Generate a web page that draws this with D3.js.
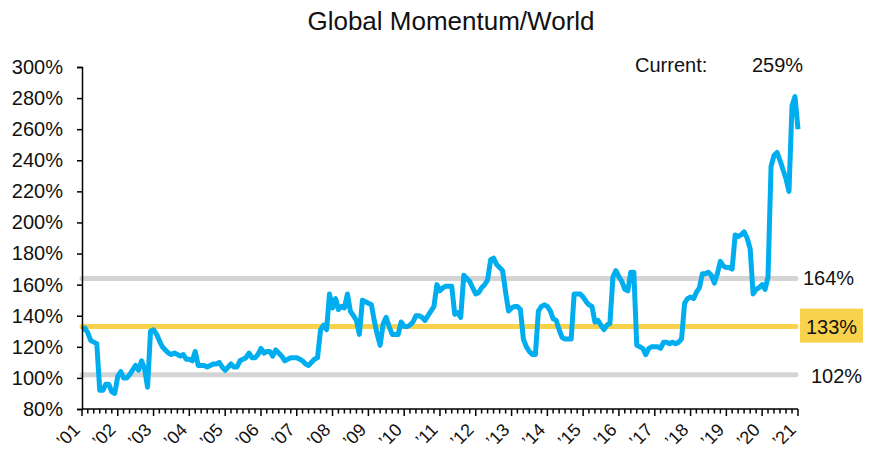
<!DOCTYPE html>
<html>
<head>
<meta charset="utf-8">
<script src="https://cdn.jsdelivr.net/npm/d3@7"></script>
<style>
  body { margin: 0; background: #fff; }
  text { font-family: "Liberation Sans", Arial, sans-serif; fill: #111; }
</style>
</head>
<body>
<div id="chart-container"></div>
<script>
(function() {
'use strict';

const W = 869;
const H = 452;

const title = 'Global Momentum/World';
const startMonth = '2001-01';
const endYear = 2021;

// monthly values, Jan 2001 .. Jan 2021 (%)
const momentum = [
  131, 132, 129, 124, 123, 122, 92, 92, 96, 96, 91, 90,
  101, 104, 100, 100, 102, 105, 108, 105, 111, 106, 94, 130,
  131, 128, 124, 120, 118, 116, 115, 116, 115, 114, 115, 112,
  112, 111, 117, 108, 108, 108, 107, 108, 109, 109, 110, 107,
  105, 107, 109, 107, 107, 111, 112, 113, 116, 113, 113, 115,
  119, 116, 117, 117, 114, 118, 116, 114, 111, 112, 113, 113,
  113, 112, 111, 109, 108, 110, 112, 113, 131, 134, 131, 154,
  145, 151, 144, 146, 145, 154, 143, 140, 137, 128, 150, 149,
  148, 147, 137, 128, 121, 135, 139, 133, 128, 128, 128, 136,
  133, 133, 134, 136, 140, 140, 139, 137, 140, 143, 146, 160,
  156, 158, 159, 159, 159, 141, 142, 139, 166, 164, 162, 158,
  154, 155, 158, 160, 163, 176, 177, 173, 171, 169, 155, 143,
  145, 146, 146, 144, 125, 120, 117, 115, 115, 143, 146, 147,
  146, 143, 138, 137, 131, 126, 125, 125, 125, 154, 154, 154,
  152, 149, 147, 146, 136, 137, 134, 131, 134, 135, 165, 169,
  165, 162, 157, 156, 168, 168, 121, 120, 119, 115, 119, 120,
  120, 120, 119, 123, 123, 122, 123, 122, 123, 125, 148, 151,
  152, 151, 155, 158, 167, 167, 168, 166, 161, 167, 175, 172,
  171, 171, 170, 192, 191, 192, 194, 190, 183, 154, 157, 158,
  160, 157, 165, 236, 243, 245, 240, 234, 228, 220, 275, 281,
  260
];

const yTicks = [80, 100, 120, 140, 160, 180, 200, 220, 240, 260, 280, 300];
const refLines = [
  { value: 164, label: '164%', color: '#d4d4d4' },
  { value: 133, label: '133%', color: '#f8d24a' },
  { value: 102, label: '102%', color: '#d4d4d4' }
];
const currentValue = 259;

const parseMonth = d3.timeParse('%Y-%m');
const start = parseMonth(startMonth);
const data = momentum.map((v, i) => ({ date: d3.timeMonth.offset(start, i), value: v }));

const xScale = d3.scaleTime()
  .domain([start, new Date(endYear, 0, 1)])
  .range([82, 798]);

const yScale = d3.scaleLinear()
  .domain([80, 300])
  .range([409, 67]);

const svg = d3.select('#chart-container')
  .append('svg')
    .attr('width', W)
    .attr('height', H);

svg.append('text')
  .attr('x', 451)
  .attr('y', 30)
  .attr('text-anchor', 'middle')
  .style('font-size', '26px')
  .text(title);

// reference lines
svg.selectAll('.ref')
  .data(refLines)
  .enter()
  .append('line')
    .attr('class', 'ref')
    .attr('x1', 82)
    .attr('x2', 796)
    .attr('y1', d => yScale(d.value))
    .attr('y2', d => yScale(d.value))
    .attr('stroke', d => d.color)
    .attr('stroke-width', 5)
    .attr('stroke-linecap', 'round');

// line
const line = d3.line()
  .x(d => xScale(d.date))
  .y(d => yScale(d.value));

svg.append('path')
  .datum(data)
  .attr('d', line)
  .attr('fill', 'none')
  .attr('stroke', '#00adef')
  .attr('stroke-width', 5)
  .attr('stroke-linejoin', 'round');

// y axis
const yAxis = d3.axisLeft(yScale)
  .tickValues(yTicks)
  .tickSize(5)
  .tickPadding(14)
  .tickFormat(d => d + '%');

const gy = svg.append('g')
  .attr('transform', 'translate(82,0)')
  .call(yAxis);
gy.selectAll('text').style('font-size', '20px');
gy.select('.domain').attr('stroke-width', 1.5);
gy.selectAll('.tick line').attr('stroke-width', 1.5);

// x axis: minor ticks every 2 months, major at years
const minor = d3.timeMonth.every(2).range(start, new Date(endYear, 0, 2));
const years = d3.timeYear.range(start, new Date(endYear, 0, 2));

const gx = svg.append('g')
  .attr('transform', 'translate(0,409)');

gx.append('line')
  .attr('x1', 82).attr('x2', 798)
  .attr('stroke', '#000').attr('stroke-width', 1.5);

gx.selectAll('.minor')
  .data(minor)
  .enter()
  .append('line')
    .attr('x1', d => xScale(d))
    .attr('x2', d => xScale(d))
    .attr('y1', 0)
    .attr('y2', d => d.getMonth() === 0 ? 7 : 4.5)
    .attr('stroke', '#000')
    .attr('stroke-width', 1.5);

gx.selectAll('.lbl')
  .data(years)
  .enter()
  .append('text')
    .attr('transform', d => `translate(${xScale(d) - 1},${22}) rotate(-45)`)
    .attr('text-anchor', 'end')
    .style('font-size', '18px')
    .text(d => '\u2019' + d3.timeFormat('%y')(d));

// right-hand labels
svg.append('text')
  .attr('x', 803).attr('y', yScale(164) + 7)
  .style('font-size', '20px')
  .text(refLines[0].label);

svg.append('rect')
  .attr('x', 800).attr('y', yScale(133) - 18)
  .attr('width', 63).attr('height', 34)
  .attr('fill', '#f8d24a');

svg.append('text')
  .attr('x', 831.5).attr('y', yScale(133) + 7)
  .attr('text-anchor', 'middle')
  .style('font-size', '20px')
  .text(refLines[1].label);

svg.append('text')
  .attr('x', 811).attr('y', yScale(102) + 8)
  .style('font-size', '20px')
  .text(refLines[2].label);

svg.append('text')
  .attr('x', 635).attr('y', 72)
  .style('font-size', '20px')
  .text('Current:');

svg.append('text')
  .attr('x', 752).attr('y', 72)
  .style('font-size', '20px')
  .text(currentValue + '%');

})();
</script>
</body>
</html>
